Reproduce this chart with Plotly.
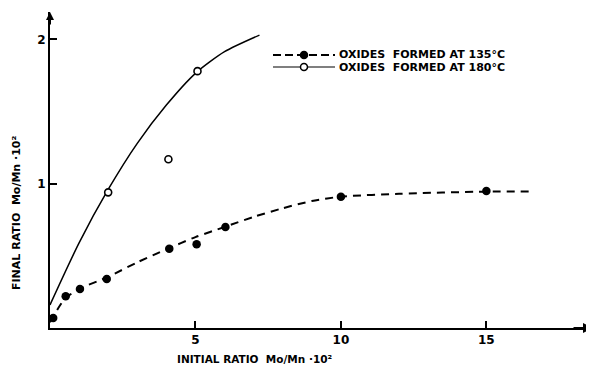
import plotly.graph_objects as go

# Measured points
x135 = [0.11, 0.54, 1.03, 1.95, 4.1, 5.04, 6.03, 10.0, 15.0]
y135 = [0.07, 0.22, 0.27, 0.34, 0.55, 0.58, 0.70, 0.91, 0.95]
x180 = [2.0, 4.07, 5.07]
y180 = [0.94, 1.17, 1.78]

# Hand-drawn curves
fit135_x = [0, 0.5, 1, 2, 3, 4, 5, 6, 7, 8, 9, 10, 12, 15, 16.6]
fit135_y = [0.04, 0.2, 0.27, 0.355, 0.455, 0.545, 0.63, 0.70, 0.77, 0.83, 0.88, 0.91, 0.93, 0.945, 0.945]
fit180_x = [0, 1, 2, 3, 4, 5, 6, 7.2]
fit180_y = [0.16, 0.59, 0.96, 1.28, 1.545, 1.765, 1.915, 2.03]

xticks = [5, 10, 15]
yticks = [1, 2]
legend_labels = ["OXIDES  FORMED AT 135°C", "OXIDES  FORMED AT 180°C"]

FONT = "DejaVu Sans, sans-serif"
BOLD = dict(family=FONT, color="black", weight="bold")

# page has an 8px body margin; figure is sized so the plot lands where the reference has it
PAGE_OFF = 8
W, H = 594 - PAGE_OFF, 376 - 2 * PAGE_OFF
PL, PT, PR, PB = 50, 12, 594, 328  # plot area in page pixels

fig = go.Figure()
fig.add_trace(go.Scatter(x=fit135_x, y=fit135_y, mode="lines",
                         line=dict(color="black", width=2, dash="8px,6px", shape="spline", smoothing=0.7),
                         showlegend=False, hoverinfo="skip"))
fig.add_trace(go.Scatter(x=fit180_x, y=fit180_y, mode="lines",
                         line=dict(color="black", width=1.5, shape="spline", smoothing=0.7),
                         showlegend=False, hoverinfo="skip"))
fig.add_trace(go.Scatter(x=x135, y=y135, mode="markers", marker=dict(color="black", size=8.5, symbol="circle"),
                         showlegend=False))
fig.add_trace(go.Scatter(x=x180, y=y180, mode="markers",
                         marker=dict(color="white", size=7, symbol="circle", line=dict(color="black", width=1.6)),
                         showlegend=False))


def px_x(p):
    return (p - PL) / float(PR - PL)


def px_y(p):
    return (PB - p) / float(PB - PT)


shapes = []
annotations = []
rows = [(55, "dash", 2, "black"), (67, "solid", 1.2, "white")]
for (py, dash, w, fill), label in zip(rows, legend_labels):
    shapes.append(dict(type="line", xref="paper", yref="paper", x0=px_x(273), x1=px_x(335),
                       y0=px_y(py), y1=px_y(py),
                       line=dict(color="black", width=w, dash="8px,4px" if dash == "dash" else "solid")))
    shapes.append(dict(type="circle", xref="paper", yref="paper", xsizemode="pixel", ysizemode="pixel",
                       xanchor=px_x(304), yanchor=px_y(py), x0=-3.5, x1=3.5, y0=-3.5, y1=3.5,
                       fillcolor=fill, line=dict(color="black", width=1.5)))
    annotations.append(dict(text=label, xref="paper", yref="paper", x=px_x(337), y=px_y(py),
                            xanchor="left", yanchor="middle", showarrow=False, font=dict(size=11, **BOLD)))

annotations += [
    dict(text="INITIAL RATIO  Mo/Mn ·10²", xref="paper", yref="paper", x=px_x(255), y=px_y(359),
         xanchor="center", yanchor="middle", showarrow=False, font=dict(size=10.5, **BOLD)),
    dict(text="FINAL RATIO  Mo/Mn ·10²", xref="paper", yref="paper", x=px_x(16), y=px_y(213),
         xanchor="center", yanchor="middle", textangle=-90, showarrow=False, font=dict(size=11, **BOLD)),
    dict(x=1, y=0, xref="paper", yref="paper", ax=-22, ay=0, showarrow=True, arrowhead=2,
         arrowsize=1, arrowwidth=2, arrowcolor="black", text=""),
    dict(x=0, y=1, xref="paper", yref="paper", ax=0, ay=14, showarrow=True, arrowhead=2,
         arrowsize=0.8, arrowwidth=2, arrowcolor="black", text=""),
]

fig.update_layout(
    width=W, height=H,
    margin=dict(l=PL - PAGE_OFF, r=W + PAGE_OFF - PR, t=PT - PAGE_OFF, b=H + PAGE_OFF - PB, autoexpand=False),
    paper_bgcolor="white", plot_bgcolor="white",
    font=dict(size=11, **BOLD),
    showlegend=False,
    xaxis=dict(range=[0, 18.7], showgrid=False, zeroline=False, showline=True, linecolor="black", linewidth=2,
               ticks="inside", ticklen=7, tickwidth=1.5, tickcolor="black", tickvals=xticks, automargin=False,
               ticktext=[str(t) for t in xticks], tickfont=dict(size=12, **BOLD)),
    yaxis=dict(range=[0, 2.19], showgrid=False, zeroline=False, showline=True, linecolor="black", linewidth=2,
               ticks="inside", ticklen=7, tickwidth=1.5, tickcolor="black", tickvals=yticks, automargin=False,
               ticktext=[str(t) for t in yticks], tickfont=dict(size=12, **BOLD)),
    shapes=shapes,
    annotations=annotations,
)

fig.write_html("out.html")
